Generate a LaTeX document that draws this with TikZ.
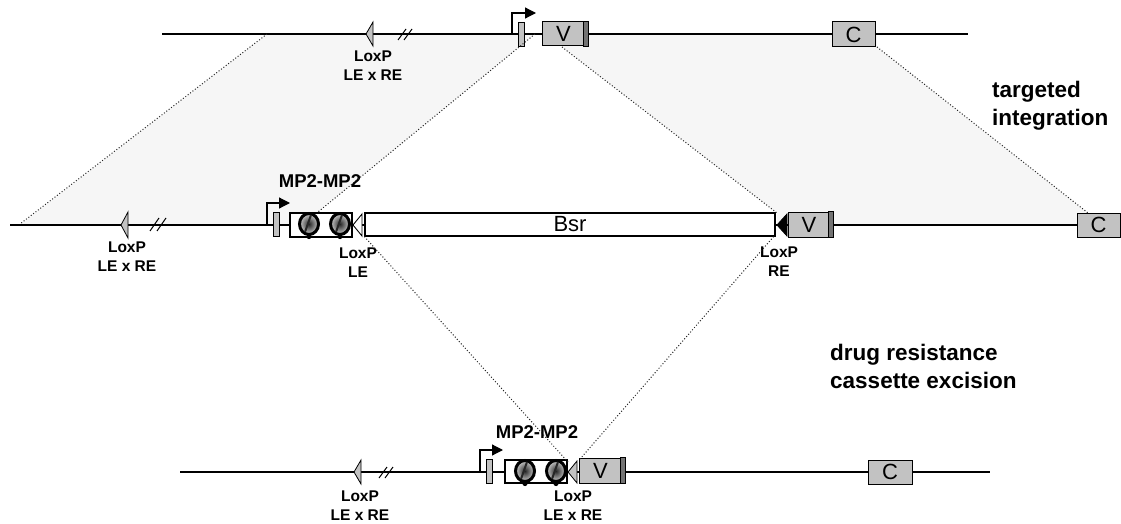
\documentclass[tikz,border=0pt]{standalone}
\usepackage{fontspec}
\setmainfont{Liberation Sans}
\usetikzlibrary{arrows.meta}
\definecolor{boxgrey}{gray}{0.76}
\definecolor{shadegrey}{gray}{0.965}
\definecolor{stripgrey}{gray}{0.45}
\definecolor{dotgrey}{gray}{0.15}
\tikzset{
  dna/.style={line width=1.2pt},
  dots/.style={dotted, line width=1pt, draw=dotgrey},
  gene/.style={draw, line width=1pt, fill=boxgrey, minimum height=24pt, inner sep=0pt, font=\fontsize{22}{22}\selectfont},
  pbar/.style={draw, line width=0.8pt, fill=boxgrey, minimum width=6pt, minimum height=24pt, inner sep=0pt},
  mpbox/.style={draw, line width=1.2pt, fill=white, minimum height=24pt, inner sep=0pt},
  lbl/.style={font=\bfseries\fontsize{15.5}{19}\selectfont, align=center, inner sep=0pt},
  mplbl/.style={font=\bfseries\fontsize{18.5}{20}\selectfont, inner sep=0pt},
  biglbl/.style={font=\bfseries\fontsize{22.5}{28}\selectfont, align=left, inner sep=0pt},
  prom/.style={line width=1.2pt, -{Triangle[length=11pt,width=11pt]}},
  loxg/.style={fill=boxgrey, draw, line width=0.8pt},
  brk/.style={line width=1pt},
  insul/.pic={
    \shade[inner color=black!85, outer color=white!80!black] (0,0) ellipse [x radius=9.5pt, y radius=10.5pt];
    \draw[line width=3pt] (0,0) ellipse [x radius=9.5pt, y radius=10.5pt];
    \draw[line width=2pt, black!85] (-4,8) -- (2,-9);
    \fill (0,12.5) circle [radius=2.6pt];
  }
}
\begin{document}
\begin{tikzpicture}[x=1pt,y=-1pt]
\useasboundingbox (0,0) rectangle (1121,524);

% ---------- shaded homology regions ----------
\fill[shadegrey] (267,34) -- (535,34) -- (318,212) -- (290,212) -- (290,225) -- (20,225) -- cycle;
\fill[shadegrey] (562,47) -- (562,34) -- (877,34) -- (877,47) -- (1088,213) -- (1088,225) -- (777,225) -- (777,213) -- cycle;

% ---------- named coordinates ----------
\coordinate (tL) at (162,34);
\coordinate (tR) at (968,34);
\coordinate (mL) at (10,225);
\coordinate (bL) at (180,472);
\coordinate (bR) at (990,472);

% ---------- top row ----------
\draw[dna] (tL) -- (tR);
\filldraw[loxg] (366,34) -- (373,22) -- (373,46) -- cycle;
\coordinate (lxT) at (370,34);
\draw[brk] (398,40) -- (406,29) (404,40) -- (412,29);
\draw[prom] (512,34) |- (536,13);
\node[pbar] (pT) at (521,34.5) {};
\node[gene, minimum width=46pt] (VT) at (565,34) {\hspace*{-3pt}V};
\filldraw[fill=stripgrey, line width=0.8pt] ([xshift=-5pt]VT.north east) rectangle (VT.south east);
\node[gene, minimum width=43pt, minimum height=25pt] (CT) at (853.5,34.5) {C};
\node[lbl] (lxTlab) at (373,66) {LoxP\\LE x RE};

% ---------- middle row ----------
\node[gene, minimum width=43pt] (CM) at (1098.5,225) {C};
\draw[dna] (mL) -- (CM.west);
\filldraw[loxg] (121,225) -- (128,212) -- (128,238) -- cycle;
\coordinate (lxM) at (125,225);
\draw[brk] (150,231) -- (159,218) (157,231) -- (166,218);
\draw[prom] (267,225) |- (290,203);
\node[pbar] (pM) at (276,224.5) {};
\node[mpbox, minimum width=62pt] (mpM) at (321,225) {};
\pic at (309,224) {insul};
\pic at (340,224) {insul};
\filldraw[fill=white, draw, line width=0.9pt] (353,225) -- (362,214) -- (362,236) -- cycle;
\coordinate (lxLE) at (358,225);
\node[draw, line width=1.2pt, fill=white, minimum width=410pt, minimum height=23pt, inner sep=0pt, font=\fontsize{22}{22}\selectfont] (bsr) at (570,224.5) {Bsr};
\filldraw[fill=black, draw, line width=0.8pt] (777,225) -- (787,214) -- (787,236) -- cycle;
\coordinate (lxRE) at (782,225);
\node[gene, minimum width=45pt, minimum height=25pt] (VM) at (810.5,224.5) {\hspace*{-3pt}V};
\filldraw[fill=stripgrey, line width=0.8pt] ([xshift=-5pt]VM.north east) rectangle (VM.south east);
\node[mplbl] (mpMlab) at (320,181) {MP2-MP2};
\node[lbl] (lxMlab) at (127,257) {LoxP\\LE x RE};
\node[lbl] (lxLElab) at (358,263) {LoxP\\LE};
\node[lbl] (lxRElab) at (779,262) {LoxP\\RE};

% ---------- bottom row ----------
\draw[dna] (bL) -- (bR);
\filldraw[loxg] (354,472) -- (361,460) -- (361,484) -- cycle;
\coordinate (lxB) at (358,472);
\draw[brk] (379,478) -- (387,467) (385,478) -- (393,467);
\draw[prom] (480,472) |- (503,450);
\node[pbar] (pB) at (489.5,471.5) {};
\node[mpbox, minimum width=62pt, minimum height=23pt] (mpB) at (536,471.5) {};
\pic at (525,471) {insul};
\pic at (556,471) {insul};
\filldraw[loxg] (568,472) -- (577,461) -- (577,483) -- cycle;
\coordinate (lxLR) at (573,472);
\node[gene, minimum width=46pt, minimum height=25pt] (VB) at (602,470.5) {\hspace*{-3pt}V};
\filldraw[fill=stripgrey, line width=0.8pt] ([xshift=-5pt]VB.north east) rectangle (VB.south east);
\node[gene, minimum width=44pt] (CB) at (890,472) {C};
\node[mplbl] (mpBlab) at (537,432) {MP2-MP2};
\node[lbl] (lxBlab) at (360,506) {LoxP\\LE x RE};
\node[lbl] (lxLRlab) at (573,506) {LoxP\\LE x RE};

% ---------- dotted homology / excision lines ----------
\draw[dots] (267,34) -- (20,224);
\draw[dots] (535,34) -- (318,212);
\draw[dots] (562,47) -- (777,213);
\draw[dots] (877,47) -- (1088,213);
\draw[dots] (bsr.south west) -- (568,462);
\draw[dots] ([xshift=-2pt]bsr.south east) -- (580,459);

% ---------- side labels ----------
\node[biglbl, anchor=west] (tgt) at (992,106) {targeted\\integration};
\node[biglbl, anchor=west] (drug) at (830,366) {drug resistance\\cassette excision};
\end{tikzpicture}
\end{document}
